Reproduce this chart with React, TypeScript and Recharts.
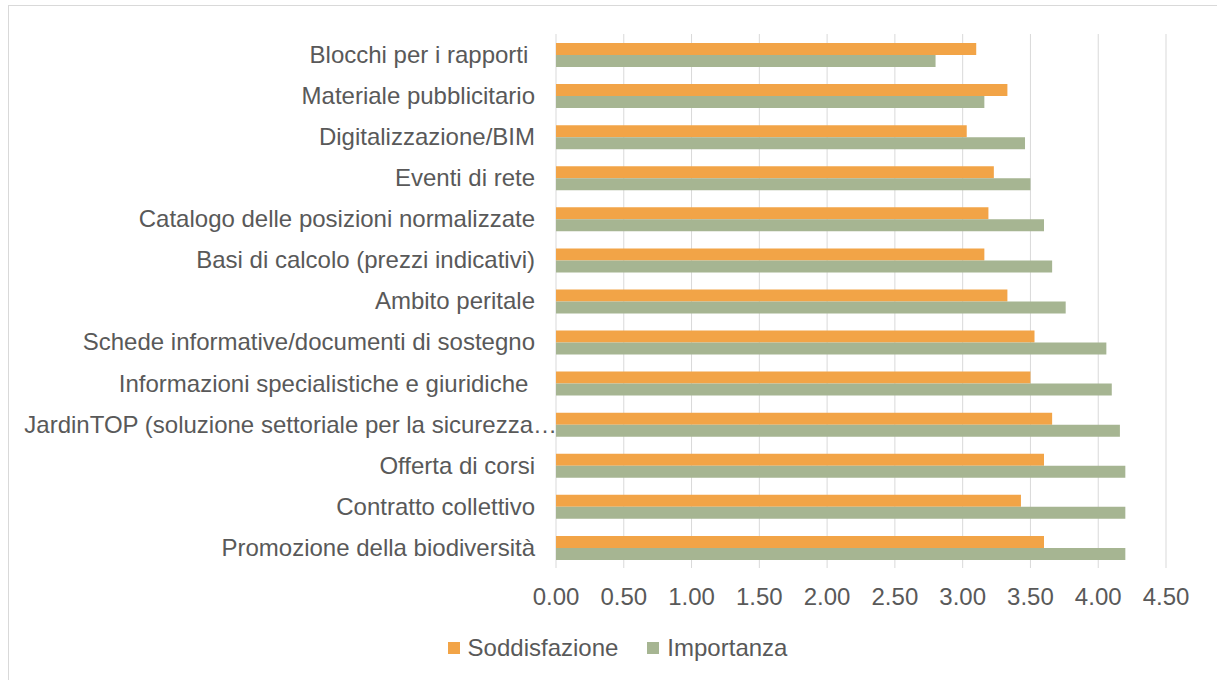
import { Bar, BarChart, CartesianGrid, Legend, XAxis, YAxis } from "recharts";

const categories = [
  "Blocchi per i rapporti ",
  "Materiale pubblicitario",
  "Digitalizzazione/BIM",
  "Eventi di rete",
  "Catalogo delle posizioni normalizzate",
  "Basi di calcolo (prezzi indicativi)",
  "Ambito peritale",
  "Schede informative/documenti di sostegno",
  "Informazioni specialistiche e giuridiche ",
  "JardinTOP (soluzione settoriale per la sicurezza…",
  "Offerta di corsi",
  "Contratto collettivo",
  "Promozione della biodiversità",
];

const soddisfazione = [3.1, 3.33, 3.03, 3.23, 3.19, 3.16, 3.33, 3.53, 3.5, 3.66, 3.6, 3.43, 3.6];
const importanza = [2.8, 3.16, 3.46, 3.5, 3.6, 3.66, 3.76, 4.06, 4.1, 4.16, 4.2, 4.2, 4.2];

const seriesNames = ["Soddisfazione", "Importanza"];

const xTicks = [0, 0.5, 1, 1.5, 2, 2.5, 3, 3.5, 4, 4.5];

const ORANGE = "#F2A447";
const GREEN = "#A6B592";
const TEXT = "#595959";
const GRID = "#D9D9D9";

const data = categories.map((name, i) => ({
  name,
  Soddisfazione: soddisfazione[i],
  Importanza: importanza[i],
}));

const CategoryTick = ({ x, y, payload }: any) => {
  const label: string = payload.value;
  // excel lets the truncated label run up to the axis
  const shift = label.endsWith("…") ? 22 : 0;
  return (
    <text
      x={x + shift}
      y={y}
      dy="0.35em"
      textAnchor="end"
      fill={TEXT}
      fontSize={24}
      style={{ whiteSpace: "pre" }}
    >
      {label}
    </text>
  );
};

const CustomLegend = ({ payload }: any) => {
  if (!payload) return null;
  // vertical layout hands the entries back reversed
  const items = [...payload].sort(
    (a: any, b: any) => seriesNames.indexOf(a.value) - seriesNames.indexOf(b.value)
  );
  return (
    <div
      style={{
        height: 30,
        display: "flex",
        justifyContent: "center",
        alignItems: "center",
        paddingLeft: 60,
        gap: 29,
      }}
    >
      {items.map((entry: any) => (
        <div key={entry.value} style={{ display: "flex", alignItems: "center" }}>
          <div style={{ width: 12, height: 12, backgroundColor: entry.color, marginRight: 8 }} />
          <span style={{ color: TEXT, fontSize: 24, lineHeight: "30px" }}>{entry.value}</span>
        </div>
      ))}
    </div>
  );
};

export default function App() {
  return (
    <div
      style={{
        position: "fixed",
        left: 0,
        top: 0,
        width: 1217,
        height: 680,
        overflow: "hidden",
        background: "#fff",
        fontFamily: "'Liberation Sans', Arial, sans-serif",
      }}
    >
      <div
        style={{
          position: "absolute",
          left: 8,
          top: 5,
          width: 1230,
          height: 700,
          border: `1px solid ${GRID}`,
        }}
      >
        <BarChart
          layout="vertical"
          width={1208}
          height={662}
          data={data}
          barSize={12}
          barGap={0}
          margin={{ top: 28, right: 51, bottom: 5, left: 0 }}
        >
          <CartesianGrid horizontal={false} stroke={GRID} strokeWidth={1} />
          <XAxis
            type="number"
            domain={[0, 4.5]}
            ticks={xTicks}
            tickFormatter={(v: number) => v.toFixed(2)}
            axisLine={false}
            tickLine={false}
            tickSize={0}
            tickMargin={20}
            height={65}
            tick={{ fill: TEXT, fontSize: 24 }}
          />
          <YAxis
            type="category"
            dataKey="name"
            width={547}
            axisLine={false}
            tickLine={false}
            tickSize={0}
            tickMargin={21}
            interval={0}
            tick={<CategoryTick />}
          />
          <Legend content={CustomLegend} verticalAlign="bottom" height={30} />
          <Bar dataKey="Soddisfazione" fill={ORANGE} isAnimationActive={false} />
          <Bar dataKey="Importanza" fill={GREEN} isAnimationActive={false} />
        </BarChart>
      </div>
    </div>
  );
}
